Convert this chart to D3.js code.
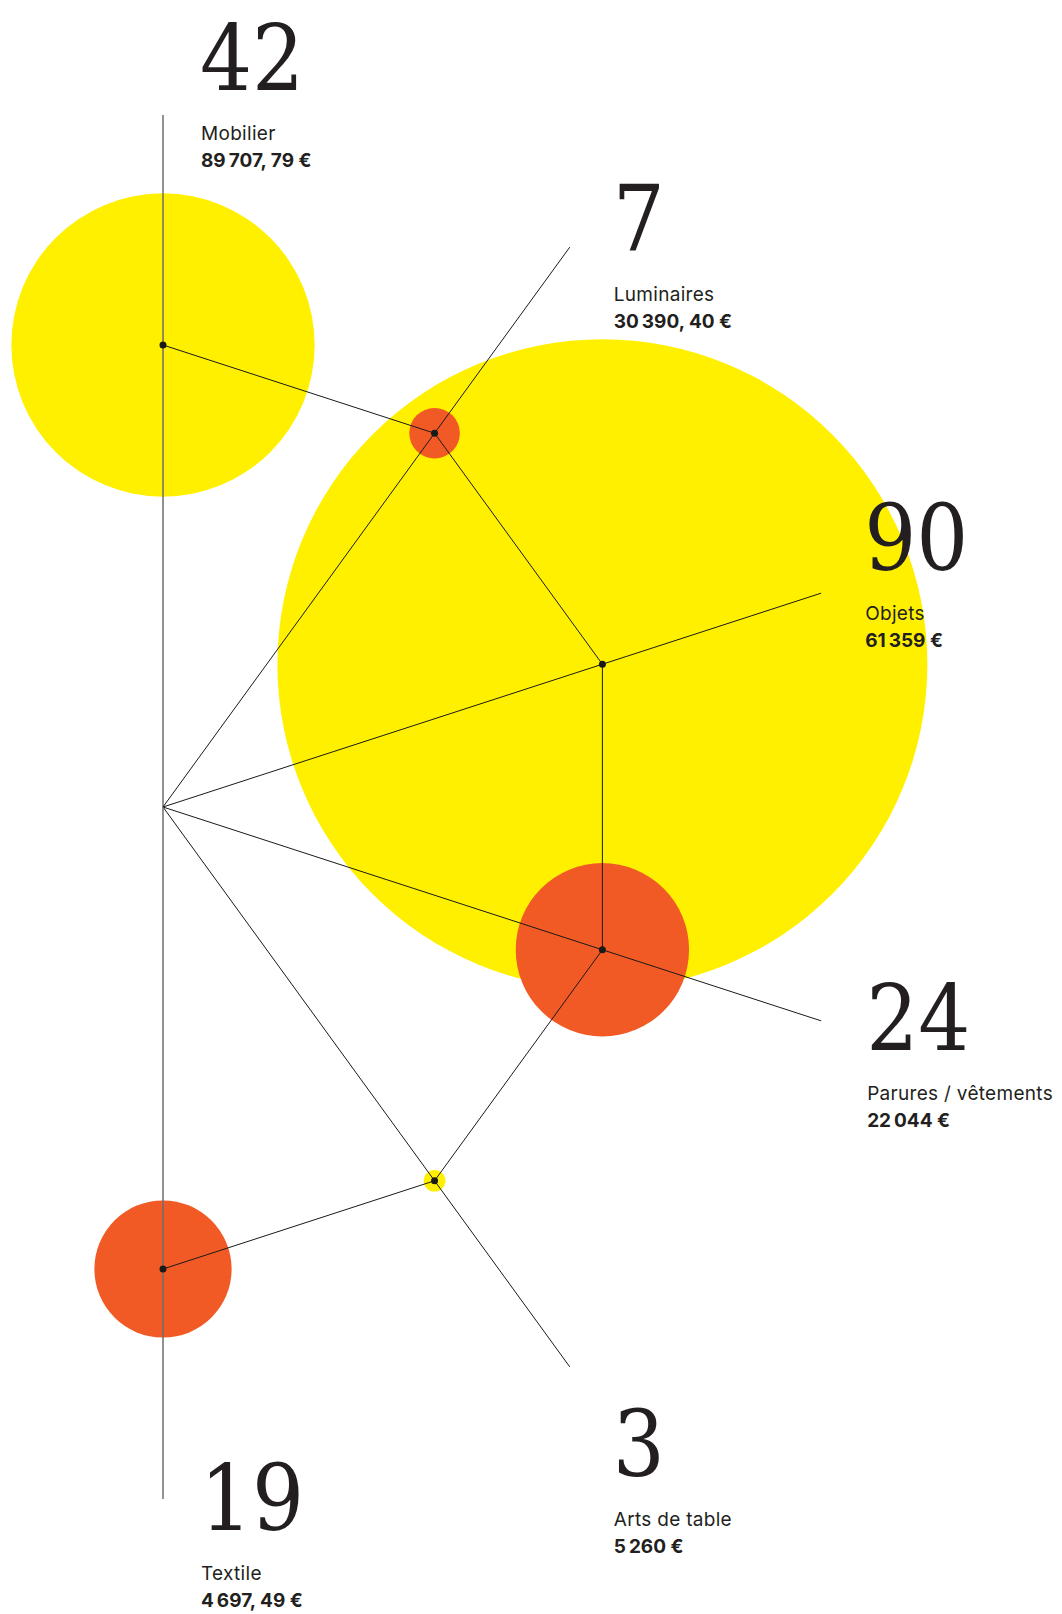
<!DOCTYPE html>
<html>
<head>
<meta charset="utf-8">
<script src="https://cdn.jsdelivr.net/npm/d3@7"></script>
<style>
  html, body { margin: 0; padding: 0; background: #fff; }
  svg { display: block; }
</style>
</head>
<body>
<svg id="chart" width="1062" height="1614"></svg>
<script>
// data
var categories = ["Mobilier", "Luminaires", "Objets", "Parures / vêtements", "Arts de table", "Textile"];
var counts = [42, 7, 90, 24, 3, 19];
var amounts = ["89\u202F707, 79 €", "30\u202F390, 40 €", "61\u202F359 €", "22\u202F044 €", "5\u202F260 €", "4\u202F697, 49 €"];

// layout
var svg = d3.select("#chart");
var hub = { x: 163, y: 807 };
var nodeDist = 462;
var rayDist = 692;
var colors = ["#fff000", "#f15a24"];
// label block: horizontal offset from ray end, top of number relative to ray end
var labelDx = [38, 44, 44, 46, 44, 38];
var labelDy = [-98, -69, -96, -44, 36, -42];

var angle = d3.scalePoint().domain(categories).range([0, Math.PI]);
var radius = d3.scaleLinear().domain([0, 90]).range([0, 325]);

var items = categories.map(function(c, i) {
	var a = angle(c);
	var n = d3.pointRadial(a, nodeDist);
	var e = d3.pointRadial(a, rayDist);
	return {
		name: c,
		count: counts[i],
		amount: amounts[i],
		color: colors[i % 2],
		nx: hub.x + n[0], ny: hub.y + n[1],
		ex: hub.x + e[0], ey: hub.y + e[1],
		i: i
	};
});

// circles, biggest first
svg.append("g")
	.selectAll("circle")
	.data(items.slice().sort(function(a, b) { return b.count - a.count; }))
	.enter()
	.append("circle")
	.attr("cx", function(d) { return d.nx; })
	.attr("cy", function(d) { return d.ny; })
	.attr("r", function(d) { return radius(d.count); })
	.attr("fill", function(d) { return d.color; });

// rays from hub
svg.append("g")
	.selectAll("line")
	.data(items)
	.enter()
	.append("line")
	.attr("x1", hub.x)
	.attr("y1", hub.y)
	.attr("x2", function(d) { return d.ex; })
	.attr("y2", function(d) { return d.ey; })
	.attr("stroke", function(d) { return (d.i === 0 || d.i === 5) ? "#6e6e6e" : "#1a1a1a"; })
	.attr("stroke-width", function(d) { return (d.i === 0 || d.i === 5) ? 1.5 : 1; });

// chain between nodes
svg.append("path")
	.datum(items)
	.attr("d", d3.line().x(function(d) { return d.nx; }).y(function(d) { return d.ny; }))
	.attr("fill", "none")
	.attr("stroke", "#1a1a1a")
	.attr("stroke-width", 1);

// node dots
svg.append("g")
	.selectAll("circle")
	.data(items)
	.enter()
	.append("circle")
	.attr("cx", function(d) { return d.nx; })
	.attr("cy", function(d) { return d.ny; })
	.attr("r", 3.5)
	.attr("fill", "#1a1a1a");

// labels
var lab = svg.append("g")
	.selectAll("g")
	.data(items)
	.enter()
	.append("g")
	.attr("transform", function(d) {
		return "translate(" + (d.ex + labelDx[d.i]) + "," + (d.ey + labelDy[d.i]) + ")";
	});

lab.append("text")
	.attr("x", -1)
	.attr("y", 73)
	.attr("font-family", "'DejaVu Serif Condensed', 'Liberation Serif', serif")
	.attr("font-size", 91)
	.attr("fill", "#231f20")
	.text(function(d) { return d.count; });

lab.append("text")
	.attr("y", 123)
	.attr("font-family", "Inter, 'Liberation Sans', Arial, sans-serif")
	.attr("font-size", 19)
	.attr("letter-spacing", 0.3)
	.attr("fill", "#231f20")
	.text(function(d) { return d.name; });

lab.append("text")
	.attr("y", 150)
	.attr("font-family", "Inter, 'Liberation Sans', Arial, sans-serif")
	.attr("font-size", 19)
	.attr("font-weight", "bold")
	.attr("fill", "#231f20")
	.text(function(d) { return d.amount; });
</script>
</body>
</html>
